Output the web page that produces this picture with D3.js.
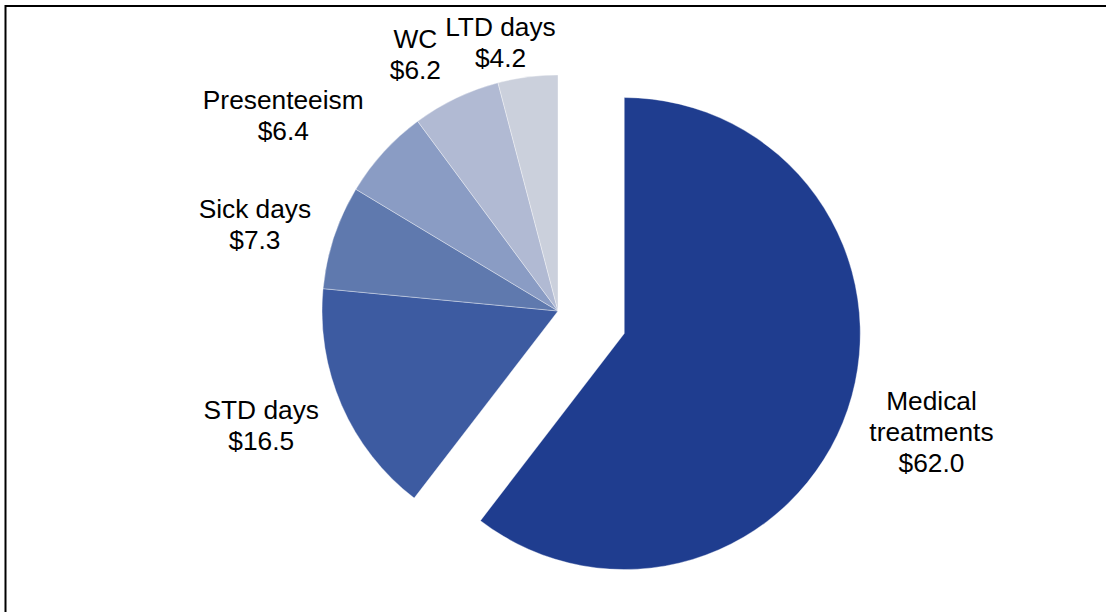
<!DOCTYPE html>
<html>
<head>
<meta charset="utf-8">
<script src="https://cdn.jsdelivr.net/npm/d3@7"></script>
<style>
  html, body { margin: 0; padding: 0; background: #fff; }
  svg { display: block; }
  text { font-family: "Liberation Sans", Arial, sans-serif; }
</style>
</head>
<body>
<svg id="chart" width="1106" height="612"></svg>
<script>
// ---- data ----
const categories = ["Medical treatments", "STD days", "Sick days", "Presenteeism", "WC", "LTD days"];
const labelLines = [["Medical", "treatments"], ["STD days"], ["Sick days"], ["Presenteeism"], ["WC"], ["LTD days"]];
const values = [62.0, 16.5, 7.3, 6.4, 6.2, 4.2];
const colors = ["#1f3d8f", "#3d5ba1", "#5f79ae", "#8a9cc4", "#b1bad3", "#cbd0dc"];

// ---- layout (not data) ----
const W = 1106, H = 612;
const cx = 558, cy = 311, R = 236;
const explodeIndex = 0, explodeDist = 70;
const labelR = R + 80;
const fontSize = 26.3, lineH = 31;
// per-label nudges from the label-arc centroid (manual placement like the original)
const labelNudge = [[8, -3], [-7, -12], [-3, 12], [-41, 17], [-6, 28], [-17, 45]];

const svg = d3.select("#chart");

// border
svg.append("rect")
  .attr("x", 5.5).attr("y", 6).attr("width", W + 10).attr("height", H + 10)
  .attr("fill", "none").attr("stroke", "#000").attr("stroke-width", 2);

const pie = d3.pie().sort(null).value(d => d.value).startAngle(0).endAngle(2 * Math.PI);
const arcs = pie(categories.map((c, i) => ({ name: c, value: values[i], i })));
const arc = d3.arc().innerRadius(0).outerRadius(R);
const labelArc = d3.arc().innerRadius(labelR).outerRadius(labelR);

function offset(d) {
  if (d.data.i !== explodeIndex) return [0, 0];
  const mid = (d.startAngle + d.endAngle) / 2;
  return [explodeDist * Math.sin(mid), -explodeDist * Math.cos(mid)];
}

const g = svg.append("g").attr("transform", `translate(${cx},${cy})`);

g.selectAll("path.slice").data(arcs).join("path")
  .attr("class", "slice")
  .attr("d", arc)
  .attr("transform", d => { const o = offset(d); return `translate(${o[0]},${o[1]})`; })
  .attr("fill", d => colors[d.data.i])
  .attr("stroke", "#ffffff")
  .attr("stroke-width", 0.6)
  .attr("stroke-opacity", 0.6);

g.selectAll("text.lbl").data(arcs).join("text")
  .attr("class", "lbl")
  .attr("text-anchor", "middle")
  .attr("font-size", fontSize)
  .attr("fill", "#000")
  .each(function (d) {
    const o = offset(d);
    const c = labelArc.centroid(d);
    const n = labelNudge[d.data.i];
    const x = c[0] + o[0] + n[0];
    const y = c[1] + o[1] + n[1];
    const lines = labelLines[d.data.i].concat(["$" + d3.format(".1f")(d.data.value)]);
    const t = d3.select(this);
    lines.forEach((ln, k) => {
      t.append("tspan")
        .attr("x", x)
        .attr("y", y + (k - (lines.length - 1) / 2) * lineH + fontSize * 0.35)
        .text(ln);
    });
  });
</script>
</body>
</html>
